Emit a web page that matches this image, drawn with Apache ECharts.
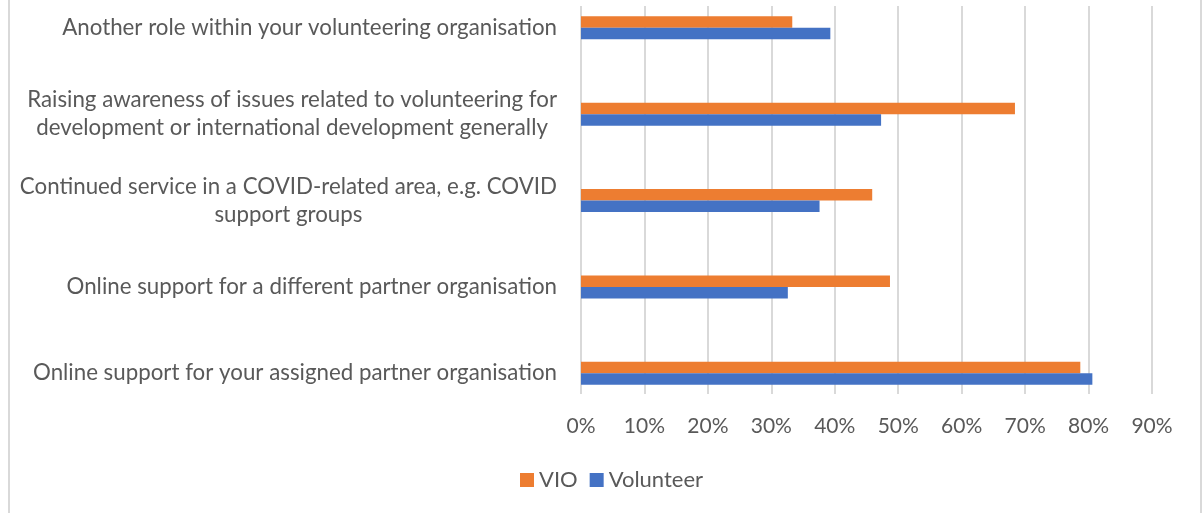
<html>
<head>
<meta charset="utf-8">
<title>Volunteering roles</title>
<script src="https://cdn.jsdelivr.net/npm/echarts@6/dist/echarts.min.js"></script>
<style>
  html, body { margin: 0; padding: 0; background: #fff; }
  #main { width: 1203px; height: 513px; }
</style>
</head>
<body>
<div id="main"></div>
<script>
// categories, bottom to top (as the y axis counts them)
var categories = [
  'Online support for your assigned partner organisation',
  'Online support for a different partner organisation',
  'Continued service in a COVID-related area, e.g. COVID\nsupport groups',
  'Raising awareness of issues related to volunteering for\ndevelopment or international development generally',
  'Another role within your volunteering organisation'
]
var seriesNames = ['VIO', 'Volunteer']
var vioValues = [78.7, 48.7, 45.9, 68.4, 33.3]
var volunteerValues = [80.6, 32.6, 37.6, 47.3, 39.3]
var xTicks = { min: 0, max: 90, step: 10 }

var font = 'Lato, "Liberation Sans", sans-serif'
var grey = '#595959'
var gridLeft = 581
var gridRight = 51

var myChart = echarts.init(document.getElementById('main'))

var option = {
  animation: false,
  backgroundColor: '#fff',
  textStyle: { fontFamily: font },
  graphic: [{
    type: 'rect',
    shape: { x: 9, y: -10, width: 1192, height: 540 },
    style: { fill: 'none', stroke: '#d9d9d9', lineWidth: 2 },
    silent: true
  }],
  legend: {
    data: seriesNames,
    left: 515,
    top: 464,
    itemWidth: 14,
    itemHeight: 14,
    itemGap: 12,
    icon: 'rect',
    textStyle: { color: grey, fontSize: 22, fontFamily: font }
  },
  grid: [
    // grid for the bars: category bands
    { left: gridLeft, right: gridRight, top: -15.3, height: 431.7, outerBoundsMode: 'none' },
    // grid for the gridlines and the value labels
    { left: gridLeft, right: gridRight, top: 6, height: 388, outerBoundsMode: 'none' }
  ],
  xAxis: [{
    gridIndex: 0,
    type: 'value',
    min: xTicks.min,
    max: xTicks.max,
    interval: xTicks.step,
    show: false
  }, {
    gridIndex: 1,
    type: 'value',
    min: xTicks.min,
    max: xTicks.max,
    interval: xTicks.step,
    axisLine: { show: false },
    axisTick: { show: false },
    splitLine: { show: true, lineStyle: { color: '#d9d9d9', width: 2 } },
    axisLabel: {
      formatter: '{value}%',
      color: grey,
      fontSize: 21,
      fontFamily: font,
      margin: 22
    }
  }],
  yAxis: [{
    gridIndex: 0,
    type: 'category',
    data: categories,
    axisLine: { show: false },
    axisTick: { show: false },
    splitLine: { show: false },
    axisLabel: {
      margin: 24,
      align: 'right',
      color: grey,
      fontSize: 22.3,
      fontFamily: font,
      lineHeight: 28,
      formatter: function(v) {
        return v.split('\n').map(function(s) { return '{c|' + s + '}' }).join('\n')
      },
      rich: {
        c: { align: 'center', color: grey, fontSize: 22.3, fontFamily: font, lineHeight: 28 }
      }
    }
  }, {
    gridIndex: 1,
    type: 'value',
    show: false
  }],
  series: [{
    name: seriesNames[0],
    type: 'bar',
    xAxisIndex: 0,
    yAxisIndex: 0,
    data: vioValues,
    barWidth: 11.5,
    barGap: '0%',
    itemStyle: { color: '#ed7d31' }
  }, {
    name: seriesNames[1],
    type: 'bar',
    xAxisIndex: 0,
    yAxisIndex: 0,
    data: volunteerValues,
    barWidth: 11.5,
    barGap: '0%',
    itemStyle: { color: '#4472c4' }
  }]
}
myChart.setOption(option)
</script>
</body>
</html>
